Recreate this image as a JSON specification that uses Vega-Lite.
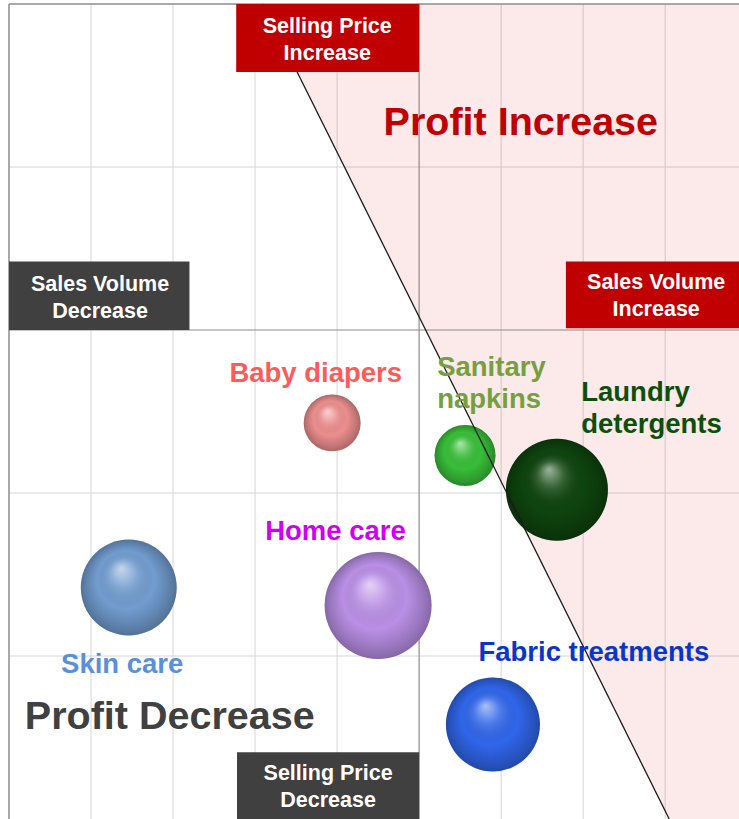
{
  "$schema": "https://vega.github.io/schema/vega-lite/v6.json",
  "width": 730,
  "height": 815,
  "autosize": {"type": "none"},
  "padding": {"left": 9, "top": 4, "right": 0, "bottom": 0},
  "background": "white",
  "config": {
    "view": {"stroke": null}
  },
  "datasets": {
    "gridX": [{"v": -4}, {"v": -3}, {"v": -2}, {"v": -1}, {"v": 1}, {"v": 2}, {"v": 3}],
    "gridY": [{"v": 1}, {"v": -1}, {"v": -2}],
    "centerX": [{"v": 0}],
    "centerY": [{"v": 0}],
    "frameX": [{"v": -5}],
    "frameY": [{"v": 2}],
    "profitLine": [
      {"x": -1.90, "y": 2.0},
      {"x": 3.049, "y": -3.0}
    ],
    "bubbles": [
      {"name": "Baby diapers", "x": -1.06, "y": -0.57, "share": 8.1},
      {"name": "Sanitary napkins", "x": 0.56, "y": -0.77, "share": 9.3},
      {"name": "Laundry detergents", "x": 1.68, "y": -0.98, "share": 26.0},
      {"name": "Home care", "x": -0.50, "y": -1.69, "share": 28.6},
      {"name": "Skin care", "x": -3.54, "y": -1.58, "share": 23.0},
      {"name": "Fabric treatments", "x": 0.90, "y": -2.42, "share": 22.1}
    ],
    "boxes": [
      {"text": "Selling Price\nIncrease", "dir": "Increase", "x": -2.23, "x2": 0.0, "y": 2.0, "y2": 1.583, "tx": -1.12, "ty": 1.871},
      {"text": "Sales Volume\nDecrease", "dir": "Decrease", "x": -5.0, "x2": -2.80, "y": 0.42, "y2": 0.0, "tx": -3.89, "ty": 0.288},
      {"text": "Sales Volume\nIncrease", "dir": "Increase", "x": 1.79, "x2": 3.9, "y": 0.42, "y2": 0.01, "tx": 2.89, "ty": 0.301},
      {"text": "Selling Price\nDecrease", "dir": "Decrease", "x": -2.22, "x2": 0.0, "y": -2.59, "y2": -3.0, "tx": -1.11, "ty": -2.712}
    ],
    "labelsCenter": [
      {"label": "Baby diapers", "x": -1.26, "y": -0.26},
      {"label": "Home care", "x": -1.02, "y": -1.23},
      {"label": "Skin care", "x": -3.62, "y": -2.04},
      {"label": "Fabric treatments", "x": 2.13, "y": -1.97}
    ],
    "labelsLeft": [
      {"label": "Sanitary napkins", "text": "Sanitary\nnapkins", "x": 0.22, "y": -0.221},
      {"label": "Laundry detergents", "text": "Laundry\ndetergents", "x": 1.976, "y": -0.374}
    ],
    "bigLabels": [
      {"label": "Profit Increase", "x": 1.24, "y": 1.28},
      {"label": "Profit Decrease", "x": -3.04, "y": -2.36}
    ]
  },
  "layer": [
    {
      "data": {"name": "gridX"},
      "mark": {"type": "rule", "color": "#D6D6D6", "strokeWidth": 1},
      "encoding": {
        "x": {"field": "v", "type": "quantitative", "scale": {"domain": [-5, 3.9], "nice": false, "zero": false}, "axis": null}
      }
    },
    {
      "data": {"name": "gridY"},
      "mark": {"type": "rule", "color": "#D6D6D6", "strokeWidth": 1},
      "encoding": {
        "y": {"field": "v", "type": "quantitative", "scale": {"domain": [-3, 2], "nice": false, "zero": false}, "axis": null}
      }
    },
    {
      "data": {"name": "profitLine"},
      "mark": {"type": "area", "orient": "horizontal", "color": "#E00000", "opacity": 0.085},
      "encoding": {
        "y": {"field": "y", "type": "quantitative", "axis": null},
        "x": {"field": "x", "type": "quantitative", "axis": null},
        "x2": {"datum": 3.9}
      }
    },
    {
      "data": {"name": "centerX"},
      "mark": {"type": "rule", "color": "#8C8C8C", "strokeWidth": 1.2},
      "encoding": {"x": {"field": "v", "type": "quantitative", "axis": null}}
    },
    {
      "data": {"name": "centerY"},
      "mark": {"type": "rule", "color": "#8C8C8C", "strokeWidth": 1.2},
      "encoding": {"y": {"field": "v", "type": "quantitative", "axis": null}}
    },
    {
      "data": {"name": "frameX"},
      "mark": {"type": "rule", "color": "#8C8C8C", "strokeWidth": 1.5},
      "encoding": {"x": {"field": "v", "type": "quantitative", "axis": null}}
    },
    {
      "data": {"name": "frameY"},
      "mark": {"type": "rule", "color": "#8C8C8C", "strokeWidth": 1.5},
      "encoding": {"y": {"field": "v", "type": "quantitative", "axis": null}}
    },
    {
      "data": {"name": "bubbles"},
      "mark": {"type": "point", "shape": "circle", "filled": true, "opacity": 1, "strokeWidth": 0},
      "encoding": {
        "x": {"field": "x", "type": "quantitative", "axis": null},
        "y": {"field": "y", "type": "quantitative", "axis": null},
        "size": {"field": "share", "type": "quantitative", "scale": {"type": "linear", "domain": [0, 30], "range": [0, 12000]}, "legend": null},
        "fill": {
          "field": "name", "type": "nominal", "legend": null,
          "scale": {
            "domain": ["Baby diapers", "Sanitary napkins", "Laundry detergents", "Home care", "Skin care", "Fabric treatments", "Increase", "Decrease"],
            "range": ["#EC8E8E", "#38BE38", "#0E440E", "#BA8FE6", "#729DD0", "#3066EA", "#C00000", "#404040"]
          }
        }
      }
    },
    {
      "data": {"name": "bubbles"},
      "mark": {
        "type": "point", "shape": "circle", "filled": true, "opacity": 1, "strokeWidth": 0,
        "fill": {
          "gradient": "radial",
          "x1": 0.42, "y1": 0.3, "r1": 0,
          "x2": 0.5, "y2": 0.5, "r2": 0.5,
          "stops": [
            {"offset": 0, "color": "rgba(255,255,255,0.6)"},
            {"offset": 0.25, "color": "rgba(255,255,255,0.18)"},
            {"offset": 0.6, "color": "rgba(0,0,0,0)"},
            {"offset": 0.88, "color": "rgba(0,0,0,0.18)"},
            {"offset": 1, "color": "rgba(0,0,0,0.28)"}
          ]
        }
      },
      "encoding": {
        "x": {"field": "x", "type": "quantitative", "axis": null},
        "y": {"field": "y", "type": "quantitative", "axis": null},
        "size": {"field": "share", "type": "quantitative", "scale": {"type": "linear", "domain": [0, 30], "range": [0, 12000]}, "legend": null}
      }
    },
    {
      "data": {"name": "profitLine"},
      "mark": {"type": "line", "color": "#1A1A1A", "strokeWidth": 1.3},
      "encoding": {
        "x": {"field": "x", "type": "quantitative", "axis": null},
        "y": {"field": "y", "type": "quantitative", "axis": null}
      }
    },
    {
      "data": {"name": "boxes"},
      "mark": {"type": "rect", "strokeWidth": 0},
      "encoding": {
        "x": {"field": "x", "type": "quantitative", "axis": null},
        "x2": {"field": "x2"},
        "y": {"field": "y", "type": "quantitative", "axis": null},
        "y2": {"field": "y2"},
        "fill": {"field": "dir", "type": "nominal", "legend": null}
      }
    },
    {
      "data": {"name": "boxes"},
      "mark": {"type": "text", "font": "Liberation Sans", "fontWeight": "bold", "fontSize": 21.5, "lineBreak": "\n", "lineHeight": 27, "align": "center", "baseline": "middle", "dy": 2, "color": "white"},
      "encoding": {
        "x": {"field": "tx", "type": "quantitative", "axis": null},
        "y": {"field": "ty", "type": "quantitative", "axis": null},
        "text": {"field": "text"}
      }
    },
    {
      "data": {"name": "labelsCenter"},
      "mark": {"type": "text", "font": "Liberation Sans", "fontWeight": "bold", "fontSize": 27.5, "align": "center", "baseline": "middle", "dy": 2},
      "encoding": {
        "x": {"field": "x", "type": "quantitative", "axis": null},
        "y": {"field": "y", "type": "quantitative", "axis": null},
        "text": {"field": "label"},
        "color": {
          "field": "label", "type": "nominal", "legend": null,
          "scale": {
            "domain": ["Baby diapers", "Sanitary napkins", "Laundry detergents", "Home care", "Skin care", "Fabric treatments", "Profit Increase", "Profit Decrease"],
            "range": ["#FF5B5B", "#76A03F", "#0B4F0B", "#D000F0", "#5A8FD9", "#0A36C8", "#C00000", "#404040"]
          }
        }
      }
    },
    {
      "data": {"name": "labelsLeft"},
      "mark": {"type": "text", "font": "Liberation Sans", "fontWeight": "bold", "fontSize": 27.5, "align": "left", "baseline": "middle", "lineBreak": "\n", "lineHeight": 32, "dy": 2},
      "encoding": {
        "x": {"field": "x", "type": "quantitative", "axis": null},
        "y": {"field": "y", "type": "quantitative", "axis": null},
        "text": {"field": "text"},
        "color": {"field": "label", "type": "nominal", "legend": null}
      }
    },
    {
      "data": {"name": "bigLabels"},
      "mark": {"type": "text", "font": "Liberation Sans", "fontWeight": "bold", "fontSize": 39.5, "align": "center", "baseline": "middle", "dy": 2},
      "encoding": {
        "x": {"field": "x", "type": "quantitative", "axis": null},
        "y": {"field": "y", "type": "quantitative", "axis": null},
        "text": {"field": "label"},
        "color": {"field": "label", "type": "nominal", "legend": null}
      }
    }
  ]
}
